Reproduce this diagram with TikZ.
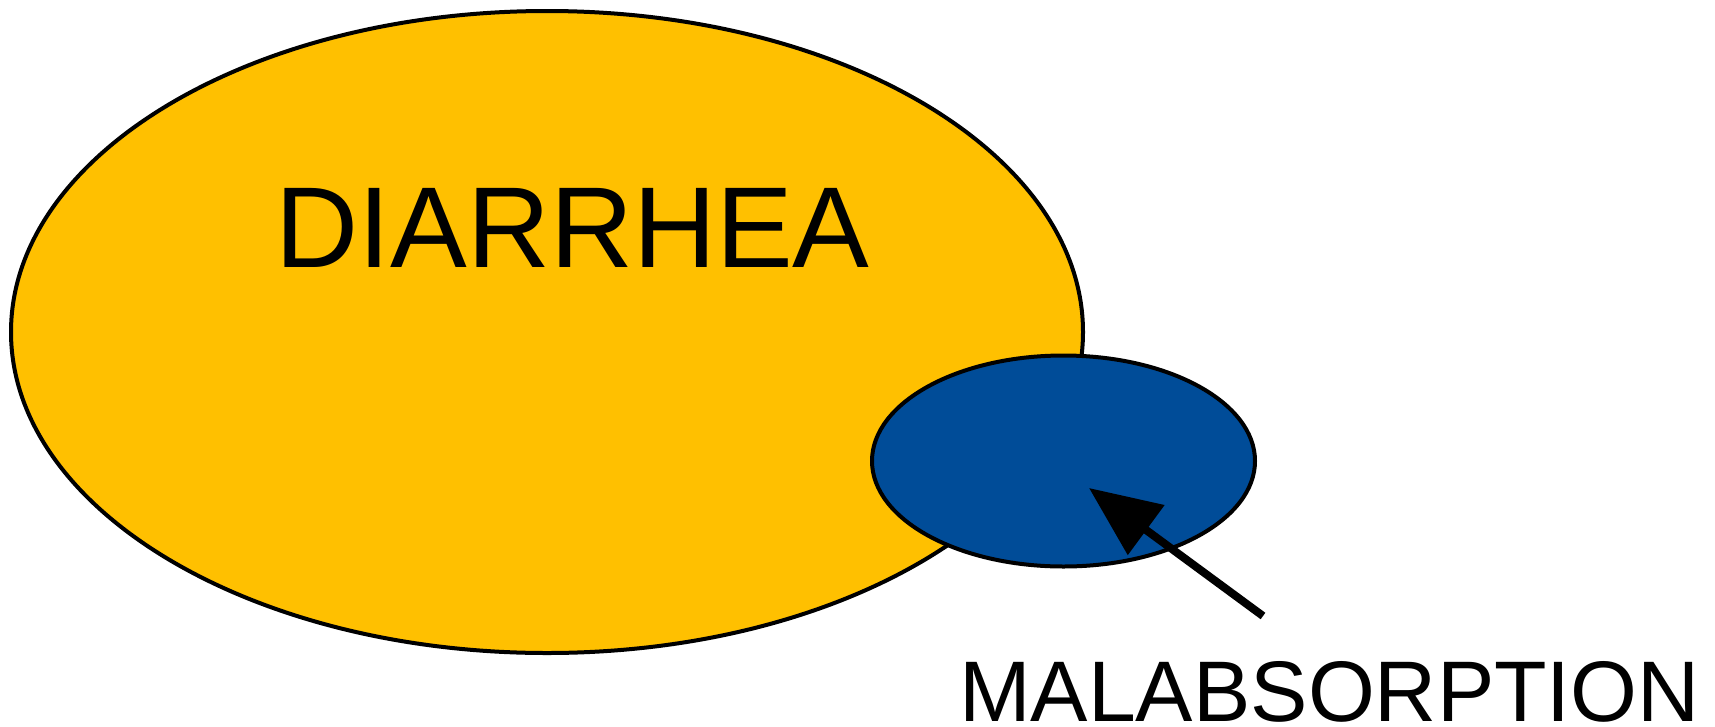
\documentclass[tikz,border=0pt]{standalone}
\usepackage{fontspec}
\setmainfont{Liberation Sans}
\usetikzlibrary{arrows.meta,shapes.geometric}
\definecolor{diarrheaYellow}{HTML}{FFC000}
\definecolor{malabBlue}{HTML}{004C98}
\tikzset{
  region/.style={ellipse, draw=black, line width=4pt, inner sep=0pt},
  caption/.style={inner sep=0pt, anchor=base, text=black},
  pointer/.style={line width=8pt, -{Triangle[length=71pt, width=60pt]}}
}
\begin{document}
\begin{tikzpicture}[x=1pt, y=-1pt]
  \useasboundingbox (0,0) rectangle (1715,726);
  % overlapping sets
  \node[region, fill=diarrheaYellow, minimum width=1072pt, minimum height=642pt] (diarrhea) at (547,332) {};
  \node[region, fill=malabBlue, minimum width=383pt, minimum height=211pt] (malab) at (1063.5,461) {};
  % captions
  \node[caption, font=\fontsize{115pt}{120pt}\selectfont] (dtext) at (572.5,267) {DIARRHEA};
  \node[caption, font=\fontsize{86pt}{90pt}\selectfont] (mtext) at (1329.5,721) {MALABSORPTION};
  % pointer from caption into the blue region
  \coordinate (tail) at (1263,616);
  \coordinate (tip) at (1089,488);
  \draw[pointer] (tail) -- (tip);
\end{tikzpicture}
\end{document}
